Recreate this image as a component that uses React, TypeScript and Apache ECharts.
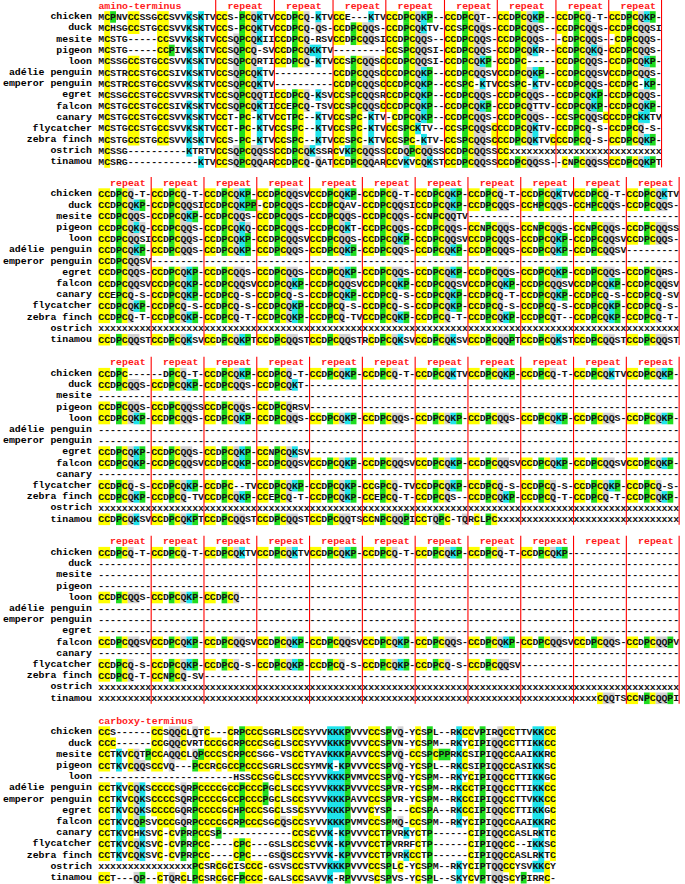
import React, { useEffect, useRef } from "react";
import * as echarts from "echarts";

// ---------- data ----------
const species = [
  "chicken", "duck", "mesite", "pigeon", "loon", "adélie penguin", "emperor penguin",
  "egret", "falcon", "canary", "flycatcher", "zebra finch", "ostrich", "tinamou",
];

const G = "---------"; // 9-column gap segment
const X = "xxxxxxxxx"; // 9-column unsequenced segment

const block1: string[][] = [
  ["MCPNVCCSSGCCSVVKSKTV", "CCS-PCQKTV", "CCDPCQ-KTV", "CCE---KTV", "CCDPCQKP--", "CCDPCQT--", "CCDPCQKP--", "CCDPCQ-T-", "CCDPCQKP-"],
  ["MCHSGCCSTGCCSVVKSKTV", "CCS-PCQKTV", "CCDPCQ-QS-", "CCDPCQQS-", "CCDPCQKTV-", "CCSPCQQS-", "CCDPCQQS--", "CCDPCQQS-", "CCDPCQQSI"],
  ["MCSTG-----CCSVVKSKTV", "CCSQPCQKII", "CCDPCQ-RSV", "CCDPCQQSI", "CCDPCQQS--", "CCDPCQQS-", "CCDPCQQS--", "-CDPCQQS-", "-CDPCQQS-"],
  ["MCSTG-----CCPIVKSKTV", "CCSQPCQ-SV", "CCDPCQKKTV", G, "CCSPCQQSI-", "CCDPCQQS-", "CCDPCQKR--", "CCDPCQKQ-", "CCDPCQQS-"],
  ["MCSSGCCSTGCCSVVKSKTV", "CCSQPCQRTI", "CCDPCQ-KTV", "CCSPCQQSC", "CCDPCQQSI-", "CCDPCQKP-", "CCDPC-----", "CCDPCQQS-", "CCDPCQKP-"],
  ["MCSTRCCSTGCCSIVKSKTV", "CCSQPCQKTV", "----------", "CCDPCQQSC", "CCDPCQKP--", "CCDPCQQSV", "CCDPCQKP--", "CCDPCQQSV", "CCDPCQQS-"],
  ["MCSTRCCSTGCCSVVKSKTV", "CCSQPCQKTV", "----------", "CCDPCQQSC", "CCDPCQKP--", "CCSPC-KTV", "CCSPC-KTV-", "CCDPCQQS-", "CCDPC-KP-"],
  ["MCSSGCCSTGCCSVVRSKTV", "CCSQPCQQTI", "CCDPCQ-KSV", "CCSPCQQSR", "CCDPCQKP--", "CCDPCQQS-", "CCDPCQQS--", "CCDPCQKP-", "CCDPCQQS-"],
  ["MCSTGCCSTGCCSIVKSKTV", "CCSQPCQKTI", "CCEPCQ-TSV", "CCSPCQQSC", "CCDPCQKP--", "CCDPCQKP-", "CCDPCQTTV-", "CCDPCQKP-", "CCDPCQKP-"],
  ["MCSTGCCSTGCCSVVKSKTV", "CCT-PC-KTV", "CCTPC--KTV", "CCSPC-KTV", "-CDPCQKP--", "CCDPCQQS-", "CCDPCQQS--", "CCSPCQQSC", "CCDPCKKTV"],
  ["MCSTGCCSTGCCSVVKSKTV", "CCT-PC-KTV", "CCSPC--KTV", "CCSPC-KTV", "CCSPCKTV--", "CCSPCQQSC", "CCDPCQKTV-", "CCDPCQ-S-", "CCDPCQ-S-"],
  ["MCSTGCCSTGCCSVVKSKTV", "CCS-PC-KTV", "CCSPC--KTV", "CCSPC-KTV", "CCSPC-KTV-", "CCSPCQQSC", "CCDPCQKTVC", "CCDPCQ-S-", "CCDPCQKP-"],
  ["MCSSG----------KTRTV", "CCSQPCQQSS", "CCDPCQKSSR", "CVKPCQQSS", "CCDQPCQQSS", "CCDPCQQSS", "CCxxxxxxxx", X, X],
  ["MCSRG------------KTV", "CCSQPCQQAR", "CCDPCQ-QAT", "CCDPCQQAR", "CCVKVCQKST", "CCDPCQQSS", "CCDPCQQSS-", "-CNPCQQSS", "CCDPCQKPT"],
];

const block2: string[][] = [
  ["CCDPCQ-T-", "CCDPCQ-T-", "CCDPCQKP-", "CCDPCQQSV", "CCDPCQKP-", "CCDPCQ-T-", "CCDPCQKP-", "CCDPCQ-T-", "CCDPCQKTV", "CCDPCQ-T-", "CCDPCQKTV"],
  ["CCDPCQKP-", "CCDPCQQSI", "CCDPCQKPP", "-CDPCQQS-", "CCDPCQAV-", "CCDPCQQSI", "CCDPCQKP-", "CCDPCQQS-", "CCHPCQQS-", "CCHPCQQS-", "CCDPCQQS-"],
  ["CCDPCQQS-", "CCDPCQKP-", "CCDPCQQS-", "CCDPCQQS-", "CCDPCQQS-", "CCDPCQQS-", "CCNPCQQTV", G, G, G, G],
  ["CCDPCQKQ-", "CCDPCQQS-", "CCDPCQKQ-", "CCDPCQQS-", "CCDPCQKT-", "CCDPCQQS-", "CCDPCQQS-", "CCNPCQQS-", "CCNPCQQS-", "CCNPCQQS-", "CCDPCQQSS"],
  ["CCDPCQQSI", "CCDPCQQS-", "CCDPCQKP-", "CCDPCQQSV", "CCDPCQQS-", "CCDPCQKP-", "CCDPCQQSV", "CCDPCQQS-", "CCDPCQKP-", "CCDPCQQSV", "CCDPCQQS-"],
  ["CCDPCQKP-", "CCDPCQQS-", "CCDPCQKP-", "CCDPCQQS-", "CCDPCQKP-", "CCDPCQQS-", "CCDPCQKP-", "CCDPCQQS-", "CCDPCQKP-", "CCDPCQQSV", G],
  ["CCDPCQQSV", G, G, G, G, G, G, G, G, G, G],
  ["CCDPCQQS-", "CCDPCQKP-", "CCDPCQQS-", "CCDPCQQS-", "CCDPCQKP-", "CCDPCQQS-", "CCDPCQKP-", "CCDPCQQS-", "CCDPCQKP-", "CCDPCQQS-", "CCDPCQRS-"],
  ["CCDPCQQSV", "CCDPCQKP-", "CCDPCQQSV", "CCDPCQKP-", "CCDPCQQSV", "CCDPCQKP-", "CCDPCQQSV", "CCDPCQKP-", "CCDPCQQSV", "CCDPCQKP-", "CCDPCQQSV"],
  ["CCEPCQ-S-", "CCDPCQKP-", "CCDPCQ-S-", "CCDPCQ-S-", "CCDPCQKP-", "CCDPCQ-S-", "CCDPCQKP-", "CCDPCQ-T-", "CCDPCQKP-", "CCDPCQ-S-", "CCDPCQ-SV"],
  ["CCDPCQKP-", "CCDPCQ-S-", "CCDPCQ-S-", "CCDPCQKP-", "CCDPCQ-S-", "CCDPCQ-S-", "CCDPCQKP-", "CCDPCQ-S-", "CCDPCQ-S-", "CCDPCQKP-", "CCDPCQ-S-"],
  ["CCDPCQ-T-", "CCDPCQKP-", "CCDPCQ-T-", "CCDPCQKP-", "CCDPCQ-TV", "CCDPCQKP-", "CCDPCQ-T-", "CCDPCQKP-", "CCDPCQT--", "CCDPCQKP-", "CCDPCQ-T-"],
  [X, X, X, X, X, X, X, X, X, X, X],
  ["CCDPCQQST", "CCDPCQKSV", "CCDPCQKPT", "CCDPCQQST", "CCDPCQQST", "RCDPCQKSV", "CCDPCQKSV", "CCDPCQQPT", "CCDPCQKST", "CCDPCQQST", "CCDPCQQST"],
];

const block3: string[][] = [
  ["CCDPC----", "--DPCQ-T-", "CCDPCQKP-", "CCDPCQ-T-", "CCDPCQKP-", "CCDPCQ-T-", "CCDPCQKTV", "CCDPCQKP-", "CCDPCQ-T-", "CCDPCQKTV", "CCDPCQKP-"],
  ["CCDPCQQS-", "CCDPCQKP-", "CCDPCQQS-", "CCDPCQKT-", G, G, G, G, G, G, G],
  [G, G, G, G, G, G, G, G, G, G, G],
  ["CCDPCQQS-", "CCDPCQQSS", "CCDPCQQS-", "CCDPCQRSV", G, G, G, G, G, G, G],
  ["CCDPCQKP-", "CCDPCQQS-", "CCDPCQKP-", "CCDPCQQS-", "CCDPCQKP-", "CCDPCQQS-", "CCDPCQKP-", "CCDPCQQS-", "CCDPCQKP-", "CCDPCQQS-", "CCDPCQKP-"],
  [G, G, G, G, G, G, G, G, G, G, G],
  [G, G, G, G, G, G, G, G, G, G, G],
  ["CCDPCQKP-", "CCDPCQQS-", "CCDPCQKP-", "CCNPCQKSV", G, G, G, G, G, G, G],
  ["CCDPCQKP-", "CCDPCQQSV", "CCDPCQKP-", "CCDPCQQSV", "CCDPCQKP-", "CCDPCQQSV", "CCDPCQKP-", "CCDPCQQSV", "CCDPCQKP-", "CCDPCQQSV", "CCDPCQKP-"],
  [G, G, G, G, G, G, G, G, G, G, G],
  ["CCDPCQ-S-", "CCDPCQKP-", "CCDPC--TV", "CCDPCQKP-", "CCDPCQKP-", "CCGPCQ-TV", "CCDPCQKP-", "CCDPCQ-S-", "CCDPCQ-S-", "CCDPCQKP-", "CCDPCQ-S-"],
  ["CCDPCQKP-", "CCDPCQ-TV", "CCDPCQKP-", "CCEPCQ-T-", "CCDPCQKP-", "CCEPCQ-T-", "CCDPCQS--", "CCDPCQKP-", "CCDPCQ-T-", "CCDPCQ-T-", "CCDPCQKP-"],
  [X, X, X, X, X, X, X, X, X, X, X],
  ["CCDPCQKSV", "CCDPCQKPT", "CCDPCQQST", "CCDPCQQST", "CCDPCQQTS", "CCNPCQQPI", "CCTQPC-TQ", "RCLPCxxxx", X, X, X],
];

const block4: string[][] = [
  ["CCDPCQ-T-", "CCDPCQ-T-", "CCDPCQKTV", "CCDPCQKTV", "CCDPCQKP-", "CCDPCQ-T-", "CCDPCQKP-", "CCDPCQ-T-", "CCDPCQKP-", G, G],
  [G, G, G, G, G, G, G, G, G, G, G],
  [G, G, G, G, G, G, G, G, G, G, G],
  [G, G, G, G, G, G, G, G, G, G, G],
  ["CCDPCQQS-", "CCDPCQKP-", "CCDPCQ---", G, G, G, G, G, G, G, G],
  [G, G, G, G, G, G, G, G, G, G, G],
  [G, G, G, G, G, G, G, G, G, G, G],
  [G, G, G, G, G, G, G, G, G, G, G],
  ["CCDPCQQSV", "CCDPCQKP-", "CCDPCQQSV", "CCDPCQKP-", "CCDPCQQSV", "CCDPCQKP-", "CCDPCQQS-", "CCDPCQKP-", "CCDPCQQSV", "CCDPCQQS-", "CCDPCQQPV"],
  [G, G, G, G, G, G, G, G, G, G, G],
  ["CCDPCQ-S-", "CCDPCQKP-", "CCDPCQ-S-", "CCDPCQKP-", "CCDPCQ-S-", "CCDPCQKP-", "CCDPCQ-S-", "CCDPCQQSV", G, G, G],
  ["CCDPCQ-T-", "CCNPCQ-SV", G, G, G, G, G, G, G, G, G],
  [X, X, X, X, X, X, X, X, X, X, X],
  [X, X, X, X, X, X, X, X, X, "xxxxCQQTS", "CCNPCQQPI"],
];

const block5: string[][] = [
  ["CCS------CCSQQCLQTC---CRPCCCSGRLSCCSYVVKKK", "PVVVCCSPVQ-YCSPL--RKCCVPIRQCCTTVKKCC"],
  ["CCC------CCGQQCVRTCCCGCRPCCCSGCLSCCSYVVKKK", "PVVVCCSPVN-YCSPM--RKYCIPIQQCCTTIKKCC"],
  ["CCTKVCQTPCCAQQCLQPCCCSCRPCCSGG-VSCCTYAVKKK", "PAVVCCSPVQ-CCSPCPPRKCSIPIQQCCAAIKKRC"],
  ["CCTKVCQQSCCVQ---PCCRCGCCPCCCSGRLSCCSYMVK-K", "PVVVCCSPVQ-YCSPL--RKCSIPIQQCCASIKKSC"],
  ["-----------------------HSSCCSGCLSCCSYVVKKK", "PVMVCCSPVQ-YCSPM--RKYCIPIQQCCTTIKKGC"],
  ["CCTKVCQKSCCCCSQRPCCCCGCCPCCCPGCLSCCSYVVKKK", "PVVVCCSPVR-YCSPM--RKCCTPIQQCCTTIKKCC"],
  ["CCTKVCQKSCCCCSQRPCCCCGCCPCCCPGCLSCCSYVVKKK", "PAVVCCSPVR-YCSPM--RKCCIPIQQCCTTVKKCC"],
  ["CCTKVCQKSCCCCGQRPCCCCGCHPCCCSGCLSSCSYVVKKK", "PVVVCYSP---CCSPA--RKCCIPIQQCCTTIKKGC"],
  ["CCTKVCQPSVCCCGQRPCCCCGCRPCCCSGCQSCCSYVVKKK", "PVMVCCSPMQ-CCSPM--RKYCIPIQQCCAAIKKRC"],
  ["CCTKVCHKSVC-CVPRPCCSP------------CCSCVVK-K", "PVVVCCTPVRKYCTP------CIPIQQCCASLRKTC"],
  ["CCTKVCQKSVC-CVPRPCC----CPC---GSLSCCSCVVK-K", "PVVVCCTPVRRFCTP------CIPIQQCC--IKKSC"],
  ["CCTKVCQKSVC-CVPRPCC----CPC---GSQSCCSYVVK-K", "PVVVCCTPVRKCCTP------CIPIQQCCASLRKTC"],
  ["xxxxxxxxxxxxxxxxPCSRCGCISCCC-GSVSCCSTVVKKK", "PVVVCCSPLC-YCSPM--RKYCIPTQQCCYSVKKCY"],
  ["CCT---QP--CTQRCLPCSRCGCFPCCC-GALSCCSAVVK-R", "PVVVSCSPVS-YCSPL--SKYCVPTQQSCYPIRRC-"],
];

const blocks = [block1, block2, block3, block4, block5];

// column boundaries of the annotated segments (tick positions) and their labels
const R9 = [0, 9, 18, 27, 36, 45, 54, 63, 72, 81, 90, 99];
const segmentBounds = [
  [0, 20, 30, 40, 49, 59, 68, 78, 87, 96],
  R9, R9, R9,
  [0, 78],
];
const REP11 = ["repeat", "repeat", "repeat", "repeat", "repeat", "repeat", "repeat", "repeat", "repeat", "repeat", "repeat"];
const segmentLabels = [
  ["amino-terminus", "repeat", "repeat", "repeat", "repeat", "repeat", "repeat", "repeat", "repeat"],
  REP11, REP11, REP11,
  ["carboxy-terminus"],
];
const showDividers = [true, true, true, true, false];

// ---------- styling ----------
const residueColors: Record<string, string> = {
  C: "#ffff00",
  P: "#1fdc1f",
  K: "#1fe3ea",
  Q: "#d2d2d2",
};
const CW = 5.93;          // px per alignment column
const ROW_H = 11.2;       // px per line
const LEFT = 96;
const HEADER_Y = [5, 182.7, 362.3, 541.3, 720.7];
const FS = CW / 0.6;
const FAMILY = '"Liberation Mono", "DejaVu Sans Mono", monospace';
const RES_FONT = `bold ${FS.toFixed(2)}px ${FAMILY}`;

function buildOption() {
  const grid: any[] = [];
  const xAxis: any[] = [];
  const yAxis: any[] = [];
  const series: any[] = [];

  blocks.forEach((rows, b) => {
    const seqs = rows.map((segs) => segs.join(""));
    grid.push({
      left: LEFT,
      top: HEADER_Y[b] - ROW_H / 2,
      width: 100 * CW,
      height: 15 * ROW_H,
      containLabel: false,
    });
    xAxis.push({
      type: "value", gridIndex: b, min: 0, max: 100, show: false,
    });
    yAxis.push({
      type: "category",
      gridIndex: b,
      inverse: true,
      data: ["__header__", ...species],
      axisLine: { show: false },
      axisTick: { show: false },
      splitLine: { show: false },
      axisLabel: {
        show: true,
        interval: 0,
        margin: 6.5,
        color: "#000",
        fontFamily: FAMILY,
        fontWeight: "bold",
        fontSize: FS,
        formatter: (v: string) => (v === "__header__" ? "" : v),
      },
    });

    // sequence rows: highlighted cells + residues
    series.push({
      type: "custom",
      xAxisIndex: b,
      yAxisIndex: b,
      silent: true,
      clip: false,
      data: seqs.map((_, r) => [0, r + 1]),
      renderItem: (params: any, api: any) => {
        const r = api.value(1) as number;
        const seq = seqs[r - 1];
        const bh = api.size([0, 1])[1];
        const children: any[] = [];
        let i = 0;
        while (i < seq.length) {
          const col = residueColors[seq[i]];
          if (!col) { i++; continue; }
          let j = i;
          while (j + 1 < seq.length && residueColors[seq[j + 1]] === col) j++;
          const a = api.coord([i, r]);
          const e = api.coord([j + 1, r]);
          children.push({
            type: "rect",
            shape: { x: a[0], y: a[1] - bh / 2, width: e[0] - a[0], height: bh + 0.4 },
            style: { fill: col },
          });
          i = j + 1;
        }
        for (let k = 0; k < seq.length; k++) {
          const c = api.coord([k + 0.5, r]);
          children.push({
            type: "text",
            x: c[0],
            y: c[1] + 0.5,
            style: {
              text: seq[k],
              fill: "#111",
              font: RES_FONT,
              align: "center",
              verticalAlign: "middle",
              textAlign: "center",
              textVerticalAlign: "middle",
            },
          });
        }
        return { type: "group", children };
      },
    });

    // segment headers and red dividers
    const bounds = segmentBounds[b];
    const labels = segmentLabels[b];
    series.push({
      type: "custom",
      xAxisIndex: b,
      yAxisIndex: b,
      silent: true,
      clip: false,
      data: labels.map((_, i) => [bounds[i], 0]),
      renderItem: (params: any, api: any) => {
        const i = params.dataIndex;
        const start = bounds[i];
        const end = bounds[i + 1];
        const label = labels[i];
        const offset = label === "repeat" ? 2 : 0;
        const bh = api.size([0, 1])[1];
        const p = api.coord([start + offset, 0]);
        const children: any[] = [
          {
            type: "text",
            x: p[0],
            y: p[1] + 0.5,
            style: {
              text: label,
              fill: "#ff1a1a",
              font: RES_FONT,
              align: "left",
              verticalAlign: "middle",
              textAlign: "left",
              textVerticalAlign: "middle",
            },
          },
        ];
        if (showDividers[b]) {
          const t = api.coord([end, 0]);
          const btm = api.coord([end, species.length]);
          children.push({
            type: "line",
            shape: { x1: t[0], y1: t[1] - bh / 2, x2: btm[0], y2: btm[1] + bh / 2 },
            style: { stroke: "#ff0000", lineWidth: 1.1 },
          });
        }
        return { type: "group", children };
      },
    });
  });

  return {
    animation: false,
    backgroundColor: "#ffffff",
    grid,
    xAxis,
    yAxis,
    series,
  };
}

export default function App() {
  const ref = useRef<HTMLDivElement>(null);
  useEffect(() => {
    if (!ref.current) return;
    const chart = echarts.init(ref.current, undefined, { renderer: "svg" });
    chart.setOption(buildOption() as any);
    return () => chart.dispose();
  }, []);
  return (
    <div
      ref={ref}
      style={{ position: "absolute", left: 0, top: 0, width: 685, height: 884, background: "#fff" }}
    />
  );
}
